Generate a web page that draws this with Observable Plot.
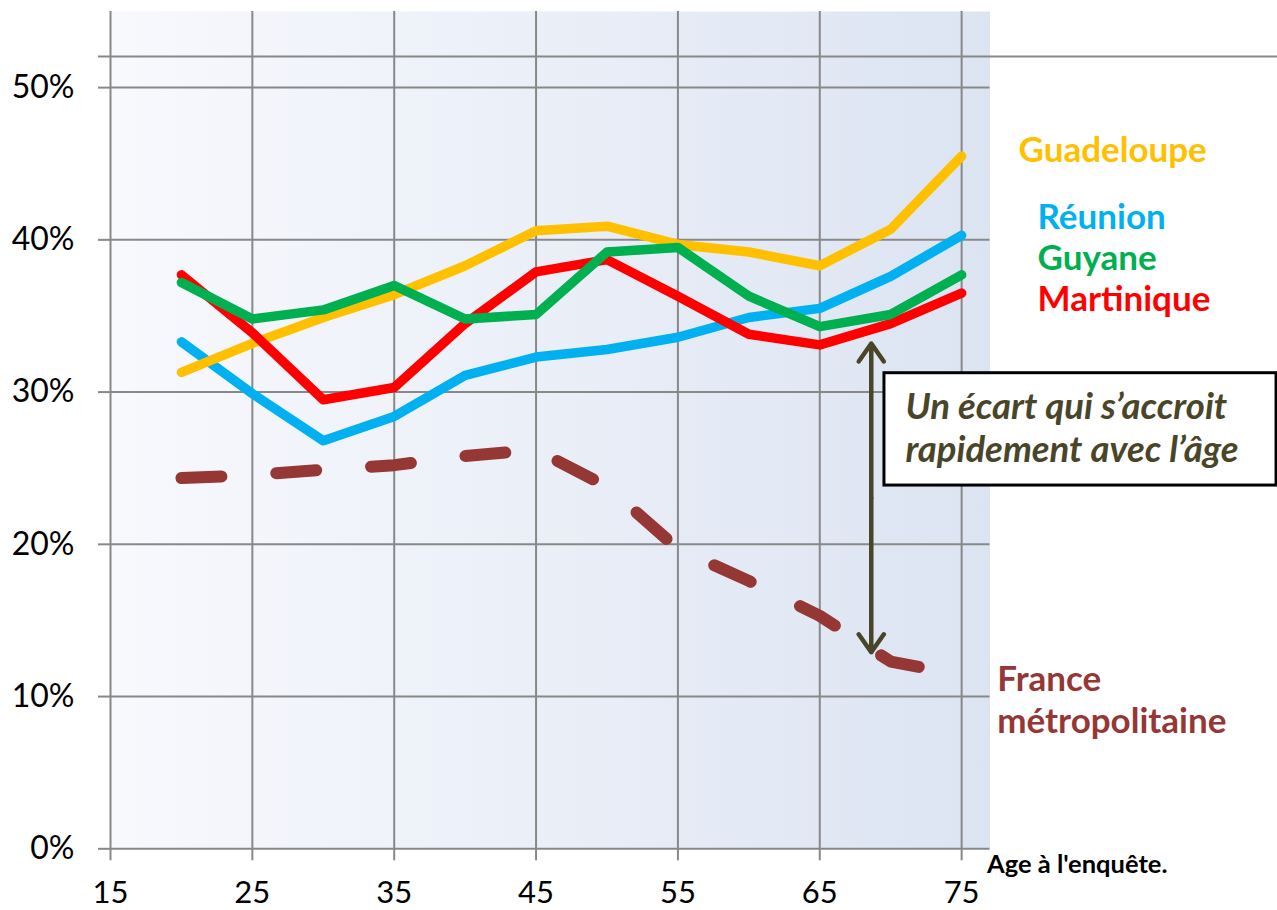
<!DOCTYPE html>
<html><head><meta charset="utf-8">
<script src="https://cdn.jsdelivr.net/npm/d3@7"></script>
<script src="https://cdn.jsdelivr.net/npm/@observablehq/plot@0.6"></script>
<style>html,body{margin:0;padding:0;background:#fff;} svg{display:block;}</style>
</head><body><div id="chart"></div>
<script>
// ---- data ----
const ages = [20, 25, 30, 35, 40, 45, 50, 55, 60, 65, 70, 75];
const guadeloupe = [31.3, 33.2, 34.9, 36.4, 38.3, 40.6, 40.9, 39.7, 39.2, 38.3, 40.7, 45.5];
const reunion    = [33.3, 29.9, 26.8, 28.4, 31.1, 32.3, 32.8, 33.6, 34.9, 35.5, 37.6, 40.3];
const guyane     = [37.2, 34.8, 35.4, 37.0, 34.8, 35.1, 39.2, 39.5, 36.3, 34.3, 35.1, 37.7];
const martinique = [37.7, 33.9, 29.5, 30.3, 34.5, 37.9, 38.7, 36.3, 33.8, 33.1, 34.5, 36.5];
const france     = [24.35, 24.55, 24.9, 25.2, 25.8, 26.2, 23.8, 19.7, 17.6, 15.3, 12.3, 11.4];

const seriesNames  = ["France métropolitaine", "Réunion", "Guadeloupe", "Martinique", "Guyane"];
const seriesValues = [france, reunion, guadeloupe, martinique, guyane];
const seriesColors = ["#953735", "#00B0F0", "#FFC000", "#FF0000", "#00B050"];

const xTicks = [15, 25, 35, 45, 55, 65, 75];
const yTicks = [0, 10, 20, 30, 40, 50];
const topRule = 52.05;
const xAxisTitle = "Age à l'enquête.";

// series labels (position in chart units)
const labelTexts  = ["Guadeloupe", "Réunion", "Guyane", "Martinique", "France", "métropolitaine"];
const labelX      = [79.01, 80.35, 80.35, 80.35, 77.51, 77.51];
const labelY      = [45.84, 41.48, 38.77, 36.09, 11.13, 8.31];
const labelColors = ["#FFC000", "#00B0F0", "#00B050", "#FF0000", "#953735", "#953735"];

// annotation
const noteLines = ["Un écart qui s’accroit", "rapidement avec l’âge"];
const noteX = 71.05;
const noteY = [29.03, 26.16];
const boxX = [69.56, 97.2];
const boxY = [23.86, 31.24];
const arrowX = 68.63;
const arrowY = [33.19, 12.91];

// ---- build rows ----
const solidRows = [];
const dashedRows = [];
seriesNames.forEach((name, s) => {
  ages.forEach((a, i) => {
    const row = {age: a, value: seriesValues[s][i], name, color: seriesColors[s]};
    if (s === 0) dashedRows.push(row); else solidRows.push(row);
  });
});
const arrowMid = (arrowY[0] + arrowY[1]) / 2;
const gridColor = "#888888";

const chart = Plot.plot({
  width: 1277,
  height: 910,
  marginLeft: 110,
  marginRight: 287.5,
  marginTop: 11,
  marginBottom: 61.7,
  x: {domain: [15, 77], label: null},
  y: {domain: [0, 55], label: null},
  color: {type: "identity"},
  style: {fontFamily: "Lato, sans-serif", background: "white", overflow: "visible"},
  marks: [
    Plot.frame({fill: "url(#plotBg)", stroke: "none"}),
    Plot.gridY(yTicks, {stroke: gridColor, strokeOpacity: 1, strokeWidth: 2}),
    Plot.gridX(xTicks, {stroke: gridColor, strokeOpacity: 1, strokeWidth: 2}),
    Plot.ruleY([topRule], {x1: () => 14.15, x2: () => 97.4, stroke: gridColor, strokeWidth: 2}),
    Plot.axisY(yTicks, {tickSize: 12, tickPadding: 24, fontSize: 32, tickFormat: d => d + "%",
      stroke: gridColor, strokeWidth: 2, label: null}),
    Plot.axisX(xTicks, {tickSize: 12, tickPadding: 20, fontSize: 31,
      stroke: gridColor, strokeWidth: 2, label: null}),
    Plot.line(dashedRows, {x: "age", y: "value", z: "name", stroke: "color", strokeWidth: 12,
      strokeLinecap: "round", strokeLinejoin: "round", strokeDasharray: "40 55"}),
    Plot.line(solidRows, {x: "age", y: "value", z: "name", stroke: "color", strokeWidth: 9.5,
      strokeLinecap: "round", strokeLinejoin: "round"}),
    Plot.text(labelTexts, {x: (d, i) => labelX[i], y: (d, i) => labelY[i], text: d => d,
      fill: (d, i) => labelColors[i], fontSize: 35, fontWeight: "bold", textAnchor: "start",
      lineAnchor: "middle"}),
    Plot.text([xAxisTitle], {x: () => 76.79, y: () => -1.03, text: d => d, fill: "black",
      fontSize: 25.5, fontWeight: "bold", textAnchor: "start", lineAnchor: "middle"}),
    Plot.arrow([0, 1], {x1: () => arrowX, y1: () => arrowMid, x2: () => arrowX, y2: (d) => arrowY[d],
      stroke: "#494529", strokeWidth: 4.5, headLength: 7.3, headAngle: 70}),
    Plot.rect([0], {x1: () => boxX[0], x2: () => boxX[1], y1: () => boxY[0], y2: () => boxY[1],
      fill: "white", stroke: "black", strokeWidth: 3}),
    Plot.text(noteLines, {x: () => noteX, y: (d, i) => noteY[i], text: d => d, fill: "#494529",
      fontSize: 36.5, fontWeight: "bold", fontStyle: "italic", textAnchor: "start", lineAnchor: "middle"})
  ]
});

const svg = d3.select(chart);
const defs = svg.insert("defs", ":first-child");
const grad = defs.append("linearGradient").attr("id", "plotBg")
  .attr("x1", 0).attr("x2", 1).attr("y1", 0).attr("y2", 0);
grad.append("stop").attr("offset", "0%").attr("stop-color", "#f8f9fd");
grad.append("stop").attr("offset", "100%").attr("stop-color", "#dce4f2");

document.getElementById("chart").appendChild(chart);
</script>
</body></html>
